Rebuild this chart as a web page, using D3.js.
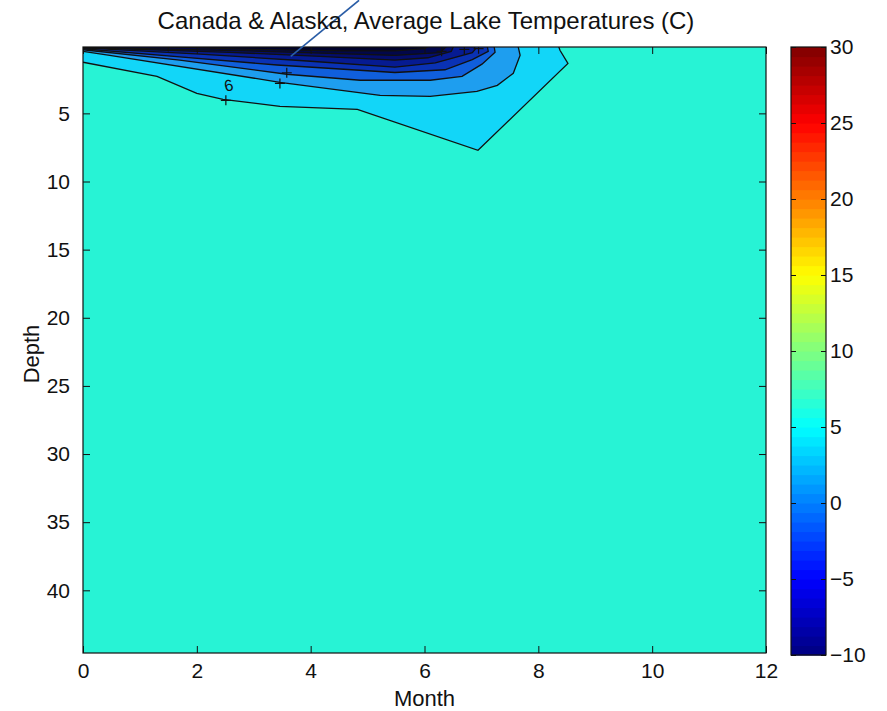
<!DOCTYPE html>
<html>
<head>
<meta charset="utf-8">
<script src="https://cdn.jsdelivr.net/npm/d3@7"></script>
<style>
  body { margin: 0; background: #fff; }
  text { font-family: "Liberation Sans", Arial, Helvetica, sans-serif; fill: #111; }
</style>
</head>
<body>
<div id="lake-viz"></div>
<script>
// --------------------------------------
// Data: contour lines as [month, depth] points,
// one array per temperature level (C)
const monthTicks = [0, 2, 4, 6, 8, 10, 12];
const depthTicks = [5, 10, 15, 20, 25, 30, 35, 40];
const colorTicks = [-10, -5, 0, 5, 10, 15, 20, 25, 30];
const levels = [6, 4, 2, 0, -2, -4, -6, -8];

const contour6 = [[0, 1.25], [1.30, 2.28], [2.0, 3.53], [2.46, 3.97], [3.46, 4.49], [4.82, 4.70],
  [6.94, 7.71], [8.52, 1.33], [8.38, 0.37], [8.35, 0]];
const contour4 = [[0, 0.45], [0.47, 0.74], [3.46, 2.72], [5.22, 3.68], [6.1, 3.75], [6.92, 3.38],
  [7.28, 2.94], [7.56, 2.06], [7.68, 0.74], [7.64, 0]];
const contour2 = [[0, 0.33], [1.70, 1.10], [3.58, 2.13], [4.87, 2.57], [6.1, 2.57], [6.66, 2.28],
  [7.01, 1.39], [7.24, 0.52], [7.22, 0]];
const contour0 = [[0, 0.26], [1.70, 0.86], [3.41, 1.45], [5.48, 2.0], [6.36, 1.8], [6.84, 1.05],
  [7.12, 0.45], [7.10, 0]];
const contourM2 = [[0, 0.20], [2.06, 0.65], [3.81, 1.12], [5.48, 1.6], [6.19, 1.3], [6.84, 0.55],
  [6.89, 0.30], [6.87, 0]];
const contourM4 = [[0, 0.17], [2.58, 0.52], [4.17, 0.82], [5.48, 1.1], [6.06, 0.92], [6.47, 0.45], [6.52, 0]];
const contourM6 = [[0, 0.15], [2.93, 0.42], [4.34, 0.6], [5.48, 0.75], [6.27, 0.55], [6.41, 0]];
const contourM8 = [[0.6, 0], [2.93, 0.3], [4.6, 0.42], [5.48, 0.42], [6.0, 0.25], [6.1, 0]];
const contourLines = [contour6, contour4, contour2, contour0, contourM2, contourM4, contourM6, contourM8];

// clabel markers and text, [month, depth]
const labelMarks = [[2.51, 4.04], [3.46, 2.80], [3.58, 2.02], [6.3, 0.45], [6.7, 0.3], [6.95, 0.25], [1.5, 0.1]];
const labelTexts = [[2.58, 3.35, "6"]];
// the stray blue stroke crossing the title, [month, depth]
const strayLine = [[3.65, 0.82], [4.85, -3.3]];

class chartLake {
    constructor(params) {
        this.width = 887;
        this.height = 711;
        this.svg = d3.select(params.svgElementId)
            .append("svg")
            .attr("width", this.width)
            .attr("height", this.height);

        const cmin = -10, cmax = 30;
        // matlab jet colormap
        const jet = v => {
            const t = (v - cmin) / (cmax - cmin);
            const c = k => Math.round(255 * Math.max(0, Math.min(1, 1.5 - Math.abs(4 * t - k))));
            return `rgb(${c(3)},${c(2)},${c(1)})`;
        };
        // the filled bands look a bit darker than plain jet in the picture
        const baseColor = "#27f3d5";
        const bandColors = ["#12d6f8", "#1e9eef", "#105fdc", "#0a32b4", "#061b92", "#040d6c", "#02074a", "#01032c"];

        const x = d3.scaleLinear().domain([0, 12]).range([83, 766]);
        const y = d3.scaleLinear().domain([0.13, 44.6]).range([47, 653]);

        this.svg.append("clipPath").attr("id", "plot-clip")
            .append("rect")
            .attr("x", x(0)).attr("y", y(0.13))
            .attr("width", x(12) - x(0)).attr("height", y(44.6) - y(0.13));

        const plot = this.svg.append("g").attr("clip-path", "url(#plot-clip)");
        plot.append("rect")
            .attr("x", x(0)).attr("y", y(0.13))
            .attr("width", x(12) - x(0)).attr("height", y(44.6) - y(0.13))
            .attr("fill", baseColor);

        // filled bands: region colder than each level, closed at the top-left corner
        const line = d3.line().x(d => x(d[0])).y(d => y(d[1]));
        plot.selectAll("path.band")
            .data(contourLines)
            .join("path")
            .attr("class", "band")
            .attr("d", (pts) => line(pts.concat([[0, -1], [0, pts[0][1]]])) + "Z")
            .attr("fill", (pts, i) => bandColors[i])
            .attr("stroke", "none");

        plot.selectAll("path.cline")
            .data(contourLines)
            .join("path")
            .attr("class", "cline")
            .attr("d", line)
            .attr("fill", "none")
            .attr("stroke", "#111")
            .attr("stroke-width", 1.3);

        plot.selectAll("path.mark")
            .data(labelMarks)
            .join("path")
            .attr("class", "mark")
            .attr("d", d => `M${x(d[0]) - 5},${y(d[1])}h10M${x(d[0])},${y(d[1]) - 5}v10`)
            .attr("stroke", "#111")
            .attr("stroke-width", 1.2);

        plot.selectAll("text.clab")
            .data(labelTexts)
            .join("text")
            .attr("class", "clab")
            .attr("x", d => x(d[0]))
            .attr("y", d => y(d[1]))
            .attr("text-anchor", "middle")
            .attr("font-size", 16)
            .attr("transform", d => `rotate(-12,${x(d[0])},${y(d[1])})`)
            .text(d => d[2]);

        // axes, ticks pointing in like matlab
        const tick = 7;
        this.svg.append("g").attr("transform", `translate(0,${y(44.6)})`)
            .call(d3.axisBottom(x).tickValues(monthTicks).tickSize(-tick).tickPadding(10))
            .call(g => g.select(".domain").remove());
        this.svg.append("g").attr("transform", `translate(0,${y(0.13)})`)
            .call(d3.axisTop(x).tickValues(monthTicks).tickSize(-tick).tickFormat(""))
            .call(g => g.select(".domain").remove());
        this.svg.append("g").attr("transform", `translate(${x(0)},0)`)
            .call(d3.axisLeft(y).tickValues(depthTicks).tickSize(-tick).tickPadding(13))
            .call(g => g.select(".domain").remove());
        this.svg.append("g").attr("transform", `translate(${x(12)},0)`)
            .call(d3.axisRight(y).tickValues(depthTicks).tickSize(-tick).tickFormat(""))
            .call(g => g.select(".domain").remove());
        this.svg.selectAll(".tick text").attr("font-size", 21).attr("fill", "#111")
            .attr("font-family", "'Liberation Sans', Arial, sans-serif");
        this.svg.selectAll(".tick line").attr("stroke", "#111");

        this.svg.append("rect")
            .attr("x", x(0)).attr("y", y(0.13))
            .attr("width", x(12) - x(0)).attr("height", y(44.6) - y(0.13))
            .attr("fill", "none").attr("stroke", "#111").attr("stroke-width", 1.2);

        // stray blue stroke
        this.svg.append("path")
            .attr("d", line(strayLine))
            .attr("stroke", "#2a5da6").attr("stroke-width", 1.6).attr("fill", "none");

        // titles
        this.svg.append("text")
            .attr("x", 426).attr("y", 29)
            .attr("text-anchor", "middle").attr("font-size", 24)
            .text("Canada & Alaska, Average Lake Temperatures (C)");
        this.svg.append("text")
            .attr("x", (x(0) + x(12)) / 2).attr("y", 706)
            .attr("text-anchor", "middle").attr("font-size", 22)
            .text("Month");
        this.svg.append("text")
            .attr("transform", `translate(39,${(y(0.13) + y(44.6)) / 2 + 4}) rotate(-90)`)
            .attr("text-anchor", "middle").attr("font-size", 22)
            .text("Depth");

        // colorbar
        const cy = d3.scaleLinear().domain([cmin, cmax]).range([655, 47]);
        const cx0 = 791, cx1 = 826;
        const steps = d3.range(64).map(i => cmin + (cmax - cmin) * i / 64);
        const cbar = this.svg.append("g");
        cbar.selectAll("rect")
            .data(steps)
            .join("rect")
            .attr("x", cx0).attr("width", cx1 - cx0)
            .attr("y", d => cy(d + (cmax - cmin) / 64))
            .attr("height", d => cy(d) - cy(d + (cmax - cmin) / 64) + 0.6)
            .attr("fill", d => jet(d + (cmax - cmin) / 128));
        cbar.append("g").attr("transform", `translate(${cx1},0)`)
            .call(d3.axisRight(cy).tickValues(colorTicks).tickSize(-5).tickPadding(4)
                .tickFormat(d => d < 0 ? "\u2212" + Math.abs(d) : d))
            .call(g => g.select(".domain").remove());
        cbar.append("g").attr("transform", `translate(${cx0},0)`)
            .call(d3.axisLeft(cy).tickValues(colorTicks).tickSize(-5).tickFormat(""))
            .call(g => g.select(".domain").remove());
        cbar.selectAll(".tick text").attr("font-size", 21).attr("fill", "#111")
            .attr("font-family", "'Liberation Sans', Arial, sans-serif");
        cbar.selectAll(".tick line").attr("stroke", "#111");
        cbar.append("rect")
            .attr("x", cx0).attr("y", 47).attr("width", cx1 - cx0).attr("height", 608)
            .attr("fill", "none").attr("stroke", "#111").attr("stroke-width", 1.2);
    }
}

function whenDocumentLoaded(action) {
    if (document.readyState === "loading") {
        document.addEventListener("DOMContentLoaded", action);
    } else {
        action();
    }
}
whenDocumentLoaded(() => {
    plot_object = new chartLake({ svgElementId: "#lake-viz" });
});
</script>
</body>
</html>
